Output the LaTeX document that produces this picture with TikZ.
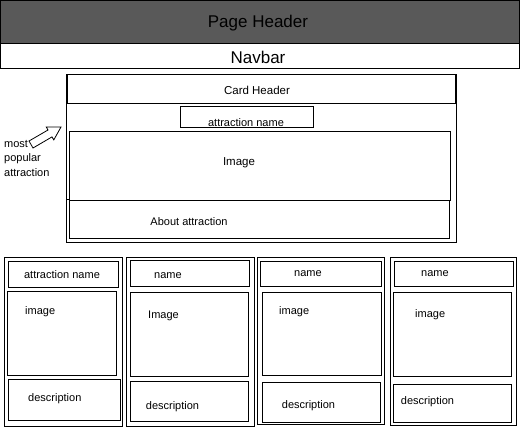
\documentclass[tikz,border=0pt]{standalone}
\usepackage{fontspec}
\setmainfont{Liberation Sans}
\usetikzlibrary{fit}
\definecolor{hdrgray}{HTML}{595959}
\tikzset{
  box/.style={draw=black, line width=1pt, inner sep=0pt, fill=none},
  big/.style={font=\fontsize{17}{20}\selectfont, inner sep=0pt, yshift=-1.2pt},
  txt/.style={font=\fontsize{11.5}{13}\selectfont, inner sep=0pt, yshift=-1.2pt},
  lbl/.style={font=\fontsize{11}{13}\selectfont, inner sep=0pt, anchor=west, yshift=-1.2pt},
  blockarrow/.style={draw=black, line width=0.8pt, line join=miter, fill=white},
}
\begin{document}
\begin{tikzpicture}[x=1pt,y=-1pt]
\useasboundingbox (0,0) rectangle (520,432);
% page header and navbar
\node[box, fill=hdrgray, fit={(0.5,0.5) (519.5,43.5)}] (hdr) {};
\node[big] (hdrt) at (258,22) {Page Header};
\node[box, fit={(0.5,43.5) (519,68)}] (nav) {};
\node[big] (navt) at (258,56) {Navbar};
% top card
\node[box, fit={(66.7,74.5) (456.5,242.5)}] (card) {};
\node[box, line width=1.3pt, fit={(67,74.5) (455.5,103.3)}] (chdr) {};
\node[txt] (chdrt) at (257,89.5) {Card Header};
\node[box, fit={(180,106) (313,127.5)}] (aname) {};
\node[txt, font=\fontsize{11}{13}\selectfont] (anamet) at (246,121.5) {attraction name};
\node[box, fit={(69.3,131.7) (450.3,200)}] (img) {};
\node[txt] (imgt) at (239,162) {Image};
\node[box, fit={(69.3,200) (449.3,238.3)}] (about) {};
\node[txt, font=\fontsize{11}{13}\selectfont] (aboutt) at (189,220) {About attraction};
\draw[line width=1pt] (card.west |- about.north west) -- (about.north west);
% annotation
\node[lbl, align=left, font=\fontsize{11}{14.5}\selectfont, anchor=north west] (note) at (4,138.5) {most\\popular\\attraction};
\draw[blockarrow] (33.0,148.0) -- (52.0,136.9) -- (53.8,139.9) -- (61.0,127.0)
  -- (46.2,126.9) -- (48.0,130.0) -- (29.0,141.0) -- cycle;
% bottom cards
% card 1
\node[box, fit={(4,257.3) (122,426)}] (c1) {};
\node[box, fit={(8,261.3) (118,287.3)}] (c1n) {};
\node[txt, font=\fontsize{11}{13}\selectfont] (c1nt) at (62,273.5) {attraction name};
\node[box, fit={(7.3,291.3) (116.7,375.3)}] (c1i) {};
\node[lbl] (c1it) at (25,310.5) {image};
\node[box, fit={(8.7,379.3) (120.7,420.7)}] (c1d) {};
\node[lbl] (c1dt) at (28,397.5) {description};
% card 2
\node[box, fit={(126.7,257.3) (254.5,426)}] (c2) {};
\node[box, fit={(130,260.5) (249.3,286.3)}] (c2n) {};
\node[lbl] (c2nt) at (154,274) {name};
\node[box, fit={(130,292) (248.3,376)}] (c2i) {};
\node[lbl] (c2it) at (148,315) {Image};
\node[box, fit={(130.7,381) (248.3,421.7)}] (c2d) {};
\node[lbl] (c2dt) at (145.7,405) {description};
% card 3
\node[box, fit={(257.8,257.3) (384.3,424.3)}] (c3) {};
\node[box, fit={(260,261) (381.7,286.7)}] (c3n) {};
\node[lbl] (c3nt) at (294,272.5) {name};
\node[box, fit={(262.3,292) (381.7,375.3)}] (c3i) {};
\node[lbl] (c3it) at (279,310.5) {image};
\node[box, fit={(262.3,382.3) (380.7,422.7)}] (c3d) {};
\node[lbl] (c3dt) at (281.7,404.3) {description};
% card 4
\node[box, fit={(390,257.3) (516.7,425)}] (c4) {};
\node[box, fit={(394.3,261.7) (513.7,286.7)}] (c4n) {};
\node[lbl] (c4nt) at (421,272.5) {name};
\node[box, fit={(393.3,292) (511.7,376.7)}] (c4i) {};
\node[lbl] (c4it) at (415,313.3) {image};
\node[box, fit={(393.3,384.3) (511.7,422.7)}] (c4d) {};
\node[lbl] (c4dt) at (400.7,400) {description};
\end{tikzpicture}
\end{document}
